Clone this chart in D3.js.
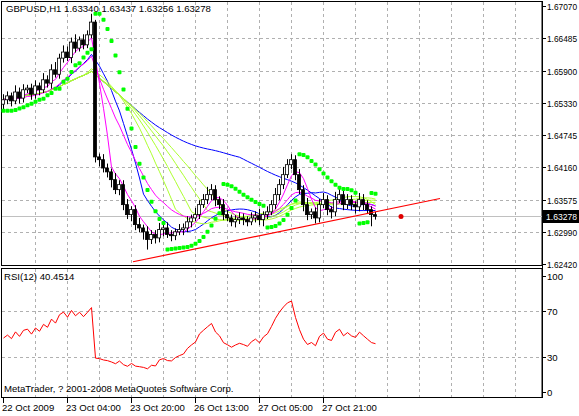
<!DOCTYPE html>
<html><head><meta charset="utf-8">
<script src="https://cdn.jsdelivr.net/npm/d3@7"></script>
<style>body{margin:0;background:#fff}svg text{font-family:"Liberation Sans",Arial,sans-serif;font-size:9.6px}</style>
</head><body>
<script>
// data
var closes = [1.6538,1.6545,1.6536,1.6552,1.6541,1.6556,1.6559,1.6548,
  1.6563,1.6556,1.6574,1.6568,1.6592,1.6584,1.6613,
  1.6624,1.6614,1.6642,1.6631,1.6646,1.6637,1.6655,1.6678,
  1.6435,
  1.6430,1.6415,1.6408,1.6394,1.6376,1.6385,
  1.6349,1.6331,1.6340,1.6313,1.6307,1.6300,1.6286,1.6295,
  1.6289,1.6304,1.6307,1.6295,1.6293,1.6300,1.6304,1.6307,
  1.6318,1.6325,1.6331,1.6349,1.6358,1.6367,1.6376,
  1.6358,1.6349,1.6331,1.6325,1.6318,1.6322,1.6325,
  1.6322,1.6318,1.6325,1.6329,1.6322,1.6331,1.6336,
  1.6349,1.6367,1.6385,1.6403,1.6421,1.6430,
  1.6403,1.6376,1.6349,1.6331,1.6336,1.6325,
  1.6349,1.6358,1.6340,1.6336,1.6358,1.6367,1.6349,
  1.6358,1.6349,1.6345,1.6358,1.6349,1.6340,1.6331,1.6328];
var firstOpen = 1.6530;
// wick lengths in pips
var wickHi = [10,8,6,12,8,10,6,8, 10,6,12,8,10,14,8, 12,10,8,14,6,10,8,15, 4,
  6,10,8,6,12,8, 8,10,6,8,12,6,10,8, 8,12,6,10,8,6,10,8,
  10,6,12,8,10,14,10, 8,6,10,8,6,8,10, 8,6,10,8,12,6,10,
  8,12,10,14,10,10, 8,10,8,12,6,8, 10,12,8,6,14,10,8, 10,8,6,12,10,8,6,5];
var wickLo = [12,8,10,6,10,8,6,10, 8,10,6,8,10,6,8, 8,6,10,8,6,8,6,6, 10,
  12,8,10,14,8,10, 10,8,12,10,8,14,18,8, 10,8,12,6,10,8,6,10,
  8,10,6,8,6,8,10, 12,8,10,6,8,10,8, 10,8,6,8,10,12,8,
  6,8,10,8,6,8, 10,8,12,10,8,10, 8,6,10,12,8,6,10, 8,10,12,8,10,8,21,6];
var priceTicks = [1.67070,1.66485,1.65900,1.65330,1.64745,1.64160,1.63575,1.62990,1.62420];
var rsiTicks = [100,70,30,0];
var timeLabels = [[0,'22 Oct 2009'],[16,'23 Oct 04:00'],[32,'23 Oct 20:00'],[48,'26 Oct 13:00'],[64,'27 Oct 05:00'],[80,'27 Oct 21:00']];
var trendLine = [[32.5,1.6246],[109.25,1.6360]];
var marker = [99.5,1.63278];
var lastPrice = 1.63278;

var W = 579, H = 416, R = 542;
var svg = d3.select('body').append('svg').attr('width', W).attr('height', H);

// candles
var bars = closes.map(function(c, i) {
  var o = i === 0 ? firstOpen : closes[i - 1];
  return { i: i, o: o, c: c, h: Math.max(o, c) + wickHi[i] / 1e4, l: Math.min(o, c) - wickLo[i] / 1e4 };
});

var x = d3.scaleLinear().domain([0, 1]).range([3, 7]);
var y = d3.scaleLinear().domain([1.62420, 1.67070]).range([264, 6]);
var yr = d3.scaleLinear().domain([0, 100]).range([392, 276]);

// frame
svg.append('rect').attr('x', 1.5).attr('y', 1.5).attr('width', R - 1.5).attr('height', 264).attr('fill', 'none').attr('stroke', '#000');
svg.append('rect').attr('x', 1.5).attr('y', 268.5).attr('width', R - 1.5).attr('height', 129).attr('fill', 'none').attr('stroke', '#000');

// grid
var gx = d3.range(35, R, 32);
svg.selectAll('.gv').data(gx).enter().append('line')
  .attr('x1', d => d + .5).attr('x2', d => d + .5).attr('y1', 2).attr('y2', 265)
  .attr('stroke', '#b0b0b0').attr('stroke-dasharray', '3,3');
svg.selectAll('.gv2').data(gx).enter().append('line')
  .attr('x1', d => d + .5).attr('x2', d => d + .5).attr('y1', 269).attr('y2', 397)
  .attr('stroke', '#b0b0b0').attr('stroke-dasharray', '3,3');
svg.selectAll('.gh').data(priceTicks.slice(1, -1)).enter().append('line')
  .attr('x1', 2).attr('x2', R).attr('y1', d => Math.round(y(d)) + .5).attr('y2', d => Math.round(y(d)) + .5)
  .attr('stroke', '#b0b0b0').attr('stroke-dasharray', '3,3');
svg.selectAll('.gr').data([70, 30]).enter().append('line')
  .attr('x1', 2).attr('x2', R).attr('y1', d => Math.round(yr(d)) + .5).attr('y2', d => Math.round(yr(d)) + .5)
  .attr('stroke', '#b0b0b0').attr('stroke-dasharray', '3,3');

// last price line
svg.append('line').attr('x1', 2).attr('x2', R).attr('y1', Math.round(y(lastPrice)) + .5).attr('y2', Math.round(y(lastPrice)) + .5).attr('stroke', '#c0c0c0');

// moving averages
function sma(n) {
  return closes.map(function(c, i) { var s = closes.slice(Math.max(0, i - n + 1), i + 1); return d3.mean(s); });
}
function ema(n) {
  var k = 2 / (n + 1), v = closes[0];
  return closes.map(function(c) { v = c * k + v * (1 - k); return v; });
}
var line = d3.line().x((d, i) => x(i) + .5).y(d => y(d));
var mas = [
  [sma(60), '#0000ff'], [sma(13), '#0000ff'],
  [sma(21), '#adff2f'], [sma(25), '#adff2f'], [sma(29), '#adff2f'], [sma(33), '#adff2f'],
  [ema(16), '#ff00ff'], [sma(5), '#ff00ff']
];
mas.forEach(function(m) {
  svg.append('path').attr('d', line(m[0])).attr('fill', 'none').attr('stroke', m[1]).attr('stroke-width', 1);
});

// candles
var cg = svg.append('g');
cg.selectAll('.wick').data(bars).enter().append('line')
  .attr('x1', d => x(d.i) + .5).attr('x2', d => x(d.i) + .5).attr('y1', d => y(d.h)).attr('y2', d => y(d.l)).attr('stroke', '#000');
cg.selectAll('.body').data(bars).enter().append('rect')
  .attr('x', d => x(d.i) - 1.5).attr('width', 3)
  .attr('y', d => y(Math.max(d.o, d.c))).attr('height', d => Math.max(1, y(Math.min(d.o, d.c)) - y(Math.max(d.o, d.c))))
  .attr('fill', d => d.c >= d.o ? '#fff' : '#000').attr('stroke', '#000').attr('stroke-width', .8);

// parabolic SAR
function sar(step, max) {
  var out = [], up = true, af = step, ep = bars[0].h, s = bars[0].l;
  bars.forEach(function(b, i) {
    if (i === 0) { out.push(s); return; }
    s = s + af * (ep - s);
    if (up) {
      s = Math.min(s, bars[i - 1].l, i > 1 ? bars[i - 2].l : bars[i - 1].l);
      if (b.l < s) { up = false; s = ep; ep = b.l; af = step; }
      else if (b.h > ep) { ep = b.h; af = Math.min(max, af + step); }
    } else {
      s = Math.max(s, bars[i - 1].h, i > 1 ? bars[i - 2].h : bars[i - 1].h);
      if (b.h > s) { up = true; s = ep; ep = b.h; af = step; }
      else if (b.l < ep) { ep = b.l; af = Math.min(max, af + step); }
    }
    out.push(s);
  });
  return out;
}
svg.selectAll('.sar').data(sar(0.02, 0.2)).enter().append('rect')
  .attr('x', (d, i) => x(i) - 1.5).attr('y', d => y(d) - 2).attr('width', 4).attr('height', 4).attr('rx', 1).attr('fill', '#00ff00');

// trend line and marker
svg.append('line').attr('x1', x(trendLine[0][0])).attr('y1', y(trendLine[0][1])).attr('x2', x(trendLine[1][0])).attr('y2', y(trendLine[1][1]))
  .attr('stroke', '#ff0000').attr('stroke-width', 1.2);
svg.append('circle').attr('cx', x(marker[0])).attr('cy', y(marker[1])).attr('r', 2.5).attr('fill', '#e00000');

// rsi (seeded with the average move of the first bars)
function rsi(n) {
  var seed = d3.mean(d3.range(1, n + 1), i => Math.abs(closes[i] - closes[i - 1])) / 2;
  var ag = seed, al = seed * 1.15, out = [];
  closes.forEach(function(c, i) {
    if (i === 0) { out.push(100 - 100 / (1 + ag / al)); return; }
    var d = c - closes[i - 1], g = Math.max(d, 0), l = Math.max(-d, 0);
    ag = (ag * (n - 1) + g) / n; al = (al * (n - 1) + l) / n;
    out.push(al === 0 ? 100 : 100 - 100 / (1 + ag / al));
  });
  return out;
}
var rline = d3.line().x((d, i) => x(i) + .5).y(d => yr(d));
svg.append('path').attr('d', rline(rsi(12))).attr('fill', 'none').attr('stroke', '#ff0000');

// axes
svg.append('line').attr('x1', R + .5).attr('x2', R + .5).attr('y1', 1).attr('y2', 398).attr('stroke', '#000');
svg.selectAll('.pt').data(priceTicks).enter().append('g').each(function(d) {
  var g = d3.select(this), yy = Math.round(y(d)) + .5;
  g.append('line').attr('x1', R).attr('x2', R + 4).attr('y1', yy).attr('y2', yy).attr('stroke', '#000');
  g.append('text').attr('x', 547).attr('y', yy + 3.5).attr('textLength', 30).attr('lengthAdjust', 'spacingAndGlyphs').text(d.toFixed(5));
});
svg.append('rect').attr('x', R + 1).attr('y', Math.round(y(lastPrice)) - 6).attr('width', W - R).attr('height', 13).attr('fill', '#000');
svg.append('text').attr('x', 546).attr('y', Math.round(y(lastPrice)) + 4).attr('fill', '#fff')
  .attr('textLength', 31).attr('lengthAdjust', 'spacingAndGlyphs').text(lastPrice.toFixed(5));
svg.selectAll('.rt').data(rsiTicks).enter().append('g').each(function(d) {
  var g = d3.select(this), yy = Math.round(yr(d)) + .5;
  g.append('line').attr('x1', R).attr('x2', R + 4).attr('y1', yy).attr('y2', yy).attr('stroke', '#000');
  g.append('text').attr('x', 547).attr('y', yy + 3.5).text(d);
});
timeLabels.forEach(function(t) {
  var xx = x(t[0]);
  svg.append('line').attr('x1', xx + .5).attr('x2', xx + .5).attr('y1', 398).attr('y2', 403).attr('stroke', '#000');
  svg.append('text').attr('x', xx - 1).attr('y', 411).text(t[1]);
});

// labels
svg.append('text').attr('x', 6).attr('y', 12).text('GBPUSD,H1  1.63340 1.63437 1.63256 1.63278');
svg.append('text').attr('x', 4).attr('y', 280).text('RSI(12) 40.4514');
svg.append('text').attr('x', 4).attr('y', 392).text('MetaTrader, ? 2001-2008 MetaQuotes Software Corp.');
</script>
</body></html>
